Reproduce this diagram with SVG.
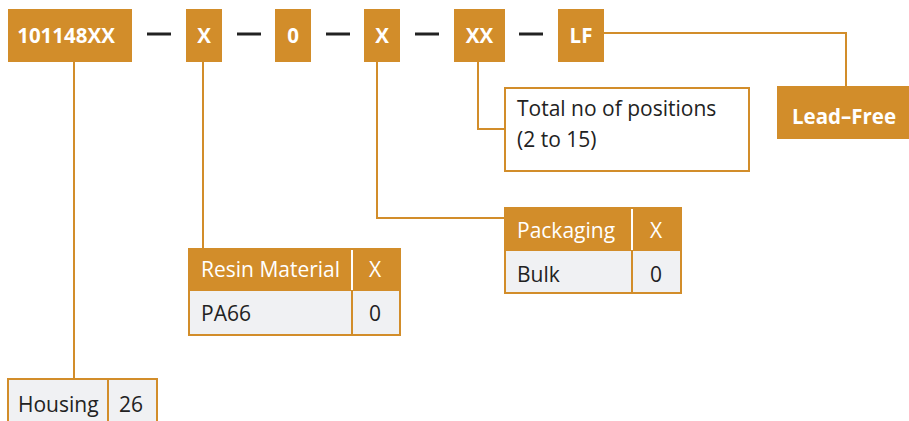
<svg xmlns="http://www.w3.org/2000/svg" width="909" height="421" viewBox="0 0 909 421">
<style>
.box{fill:#d28d2a}
.t{font-family:"Open Sans","Liberation Sans",sans-serif;font-size:21px}
.w{fill:#ffffff}
.b{font-weight:bold;font-size:20.5px}
.k{fill:#222222}
.ln{fill:none;stroke:#d28d2a;stroke-width:2}
.dash{stroke:#222222;stroke-width:3}
.cell{fill:#f0f1f3;stroke:#d28d2a;stroke-width:2}
.hd{fill:#d28d2a;stroke:#d28d2a;stroke-width:2}
.wb{stroke:#ffffff;stroke-width:2}
.ob{stroke:#d28d2a;stroke-width:2}
</style>
<g id="connectors">
<line class="dash" x1="147" y1="34" x2="171" y2="34"/>
<line class="dash" x1="237" y1="34" x2="261" y2="34"/>
<line class="dash" x1="326" y1="34" x2="350" y2="34"/>
<line class="dash" x1="415" y1="34" x2="439" y2="34"/>
<line class="dash" x1="519" y1="34" x2="543" y2="34"/>
<polyline class="ln" points="74,61 74,379"/>
<polyline class="ln" points="203,61 203,249"/>
<polyline class="ln" points="377,61 377,218 505,218"/>
<polyline class="ln" points="478,61 478,129 505,129"/>
<polyline class="ln" points="604,33 846,33 846,87"/>
</g>
<g id="n-base"><rect class="box" x="8" y="9" width="124" height="53"/><text class="t w b" x="66" y="43" text-anchor="middle">101148XX</text></g>
<g id="n-x1"><rect class="box" x="186" y="9" width="36" height="53"/><text class="t w b" x="204" y="43" text-anchor="middle">X</text></g>
<g id="n-0"><rect class="box" x="275" y="9" width="36" height="53"/><text class="t w b" x="293" y="43" text-anchor="middle">0</text></g>
<g id="n-x2"><rect class="box" x="364" y="9" width="36" height="53"/><text class="t w b" x="382" y="43" text-anchor="middle">X</text></g>
<g id="n-xx"><rect class="box" x="454" y="9" width="51" height="53"/><text class="t w b" x="479.500" y="43" text-anchor="middle">XX</text></g>
<g id="n-lf"><rect class="box" x="558" y="9" width="46" height="53"/><text class="t w b" x="581" y="43" text-anchor="middle">LF</text></g>
<g id="n-leadfree"><rect class="box" x="777" y="86" width="132" height="53"/><text class="t w b" x="844" y="124" text-anchor="middle">Lead–Free</text></g>
<g id="n-total"><rect x="505" y="88" width="244" height="83" fill="#ffffff" stroke="#d28d2a" stroke-width="2"/>
<text class="t k" x="517" y="116">Total no of positions</text>
<text class="t k" x="517" y="147">(2 to 15)</text></g>
<g id="n-packaging">
<rect class="hd" x="505" y="208" width="176" height="42"/>
<rect class="cell" x="505" y="250" width="176" height="43"/>
<line class="wb" x1="632" y1="209" x2="632" y2="250"/>
<line class="ob" x1="632" y1="250" x2="632" y2="293"/>
<text class="t w" x="517" y="238">Packaging</text>
<text class="t w" x="656" y="238" text-anchor="middle">X</text>
<text class="t k" x="517" y="282">Bulk</text>
<text class="t k" x="656" y="282" text-anchor="middle">0</text>
</g>
<g id="n-resin">
<rect class="hd" x="189" y="249" width="211" height="41"/>
<rect class="cell" x="189" y="290" width="211" height="45"/>
<line class="wb" x1="352" y1="250" x2="352" y2="290"/>
<line class="ob" x1="352" y1="290" x2="352" y2="335"/>
<text class="t w" x="201" y="277">Resin Material</text>
<text class="t w" x="375" y="277" text-anchor="middle">X</text>
<text class="t k" x="201" y="321">PA66</text>
<text class="t k" x="375" y="321" text-anchor="middle">0</text>
</g>
<g id="n-housing">
<rect class="cell" x="8" y="379" width="149" height="50"/>
<line class="ob" x1="108" y1="379" x2="108" y2="421"/>
<text class="t k" x="18" y="412">Housing</text>
<text class="t k" x="131" y="412" text-anchor="middle">26</text>
</g>
</svg>
